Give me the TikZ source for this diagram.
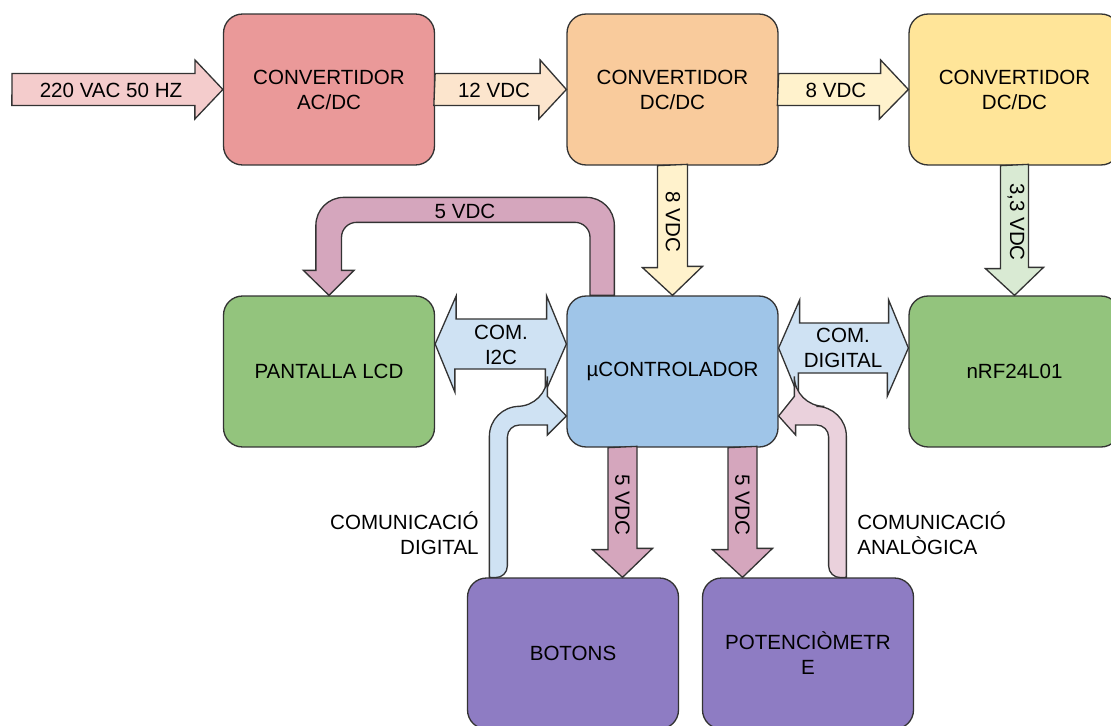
\documentclass[tikz,border=0pt]{standalone}
\usepackage{fontspec}
\setmainfont{Liberation Sans}
\usetikzlibrary{calc}

\definecolor{acdcfill}{HTML}{EA9999}
\definecolor{dcdcfill}{HTML}{F9CB9C}
\definecolor{dcdcbfill}{HTML}{FFE599}
\definecolor{greenfill}{HTML}{93C47D}
\definecolor{ucfill}{HTML}{9FC5E8}
\definecolor{purplefill}{HTML}{8E7CC3}
\definecolor{infill}{HTML}{F4CCCC}
\definecolor{twelvefill}{HTML}{FCE5CD}
\definecolor{eightfill}{HTML}{FFF2CC}
\definecolor{threefill}{HTML}{D9EAD3}
\definecolor{fivefill}{HTML}{D5A6BD}
\definecolor{comfill}{HTML}{CFE2F3}
\definecolor{anafill}{HTML}{EAD1DC}

\begin{document}
\begin{tikzpicture}[
    x=0.02cm, y=-0.02cm,
    font=\fontsize{11.7}{14.2}\selectfont,
    blk/.style={rectangle,rounded corners=0.38cm,draw=black!80,line width=0.75pt,minimum width=4.22cm,minimum height=3.02cm,align=center,inner sep=0pt},
    arw/.style={draw=black!80,line width=0.75pt,line join=miter},
    lbl/.style={inner sep=0pt,align=center},
    ]
    \useasboundingbox (0,0) rectangle (1111,726);
    % blocs
    \node[blk,fill=acdcfill] (acdc) at (329,89.5) {CONVERTIDOR\\AC/DC};
    \node[blk,fill=dcdcfill] (dcdca) at (672.5,89.5) {CONVERTIDOR\\DC/DC};
    \node[blk,fill=dcdcbfill] (dcdcb) at (1014.5,89.5) {CONVERTIDOR\\DC/DC};
    \node[blk,fill=greenfill] (lcd) at (329,371.5) {PANTALLA LCD};
    \node[blk,fill=ucfill] (uc) at (672.5,371.5) {µCONTROLADOR};
    \node[blk,fill=greenfill] (nrf) at (1014.5,371.5) {nRF24L01};
    \node[blk,fill=purplefill] (botons) at (573,653.5) {BOTONS};
    \node[blk,fill=purplefill] (pot) at (808,653.5) {POTENCIÒMETR\\E};
    % alimentacio
    \coordinate (src) at (12,89.5);
    \draw[arw,fill=infill] (src) ++(0,-16) -- ++(183,0) -- ++(0,-13.5) -- (acdc.west) -- ++(-28,29.5) -- ++(0,-13.5) -- ++(-183,0) -- cycle;
    \draw[arw,fill=twelvefill] (acdc.east) ++(0,-16) -- ++(105,0) -- ++(0,-13.5) -- (dcdca.west) -- ++(-27.5,29.5) -- ++(0,-13.5) -- ++(-105,0) -- cycle;
    \draw[arw,fill=eightfill] (dcdca.east) ++(0,-16) -- ++(102,0) -- ++(0,-13.5) -- (dcdcb.west) -- ++(-29,29.5) -- ++(0,-13.5) -- ++(-102,0) -- cycle;
    \draw[arw,fill=eightfill] (dcdca.south) ++(-15,0) -- ++(0,102) -- ++(-15,0) -- (uc.north) -- ++(30,-29) -- ++(-15,0) -- ++(0,-102) -- cycle;
    \draw[arw,fill=threefill] (dcdcb.south) ++(-14,0) -- ++(0,103) -- ++(-15,0) -- (nrf.north) -- ++(29,-28) -- ++(-15,0) -- ++(0,-103) -- cycle;
    \draw[arw,fill=fivefill] ($(uc.north west)+(48,0)$) [rounded corners=0.56cm] -- ++(0,-98) -- ++(-298.5,0) [sharp corners] -- ++(0,73) -- ++(-12.5,0) -- (lcd.north) -- ++(25,-25) -- ++(-12.5,0) [rounded corners=0.3cm] -- ++(0,-48) -- ++(248.5,0) [sharp corners] -- ++(0,73) -- cycle;
    \draw[arw,fill=fivefill] (uc.south) ++(-64.5,0) -- ++(0,102) -- ++(-15.5,0) -- ($(botons.north)+(49.5,0)$) -- ++(30,-29) -- ++(-15.5,0) -- ++(0,-102) -- cycle;
    \draw[arw,fill=fivefill] (uc.south) ++(55.5,0) -- ++(0,102) -- ++(-15.5,0) -- ($(pot.north)+(-65.5,0)$) -- ++(30,-29) -- ++(-15.5,0) -- ++(0,-102) -- cycle;
    % comunicacio
    \coordinate (i2cl) at ($(lcd.east)+(0,-27.5)$);
    \coordinate (i2cr) at ($(uc.west)+(0,-27.5)$);
    \draw[arw,fill=comfill] (i2cl) -- ++(21,-48) -- ++(0,23) -- ++(90.5,0) -- ++(0,-23) -- (i2cr) -- ++(-21,48) -- ++(0,-23) -- ++(-90.5,0) -- ++(0,23) -- cycle;
    \coordinate (digl) at ($(uc.east)+(0,-23.5)$);
    \coordinate (digr) at ($(nrf.west)+(0,-23.5)$);
    \draw[arw,fill=comfill] (digl) -- ++(21,-48) -- ++(0,23) -- ++(89,0) -- ++(0,-23) -- (digr) -- ++(-21,48) -- ++(0,-23) -- ++(-89,0) -- ++(0,23) -- cycle;
    \draw[arw,fill=comfill] ($(botons.north west)+(22.5,0)$) [rounded corners=0.6cm] -- ++(0,-171) -- ++(58,0) [sharp corners] -- ++(0,-10) -- ($(uc.west)+(0,44.5)$) -- ++(-19,19) -- ++(0,-10) [rounded corners=0.24cm] -- ++(-40,0) -- ++(0,153) [sharp corners] -- cycle;
    \draw[arw,fill=anafill] ($(pot.north west)+(144.5,0)$) [rounded corners=0.6cm] -- ++(0,-171) -- ++(-52,0) [sharp corners] -- ++(0,-10) -- ($(uc.east)+(0,44.5)$) -- ++(17,19) -- ++(0,-10) [rounded corners=0.24cm] -- ++(33,0) -- ++(0,153) [sharp corners] -- cycle;
    % textos
    \node[lbl] (tin) at (111,90) {220 VAC 50 HZ};
    \node[lbl] (t12) at (494,90) {12 VDC};
    \node[lbl] (t8a) at (836,90) {8 VDC};
    \node[lbl,rotate=-90] (t8b) at (673,222) {8 VDC};
    \node[lbl,rotate=-90] (t33) at (1016,222) {3,3 VDC};
    \node[lbl] (t5a) at (465,211) {5 VDC};
    \node[lbl] (ti2c) at (501,345) {COM.\\I2C};
    \node[lbl] (tdig) at (843,348) {COM.\\DIGITAL};
    \node[lbl,rotate=-90] (t5b) at (622.5,505) {5 VDC};
    \node[lbl,rotate=-90] (t5c) at (742.5,505) {5 VDC};
    \node[lbl,align=right,anchor=east] (tcd) at (479,533) {COMUNICACIÓ\\DIGITAL};
    \node[lbl,align=left,anchor=west] (tca) at (857,533) {COMUNICACIÓ\\ANALÒGICA};
\end{tikzpicture}
\end{document}
